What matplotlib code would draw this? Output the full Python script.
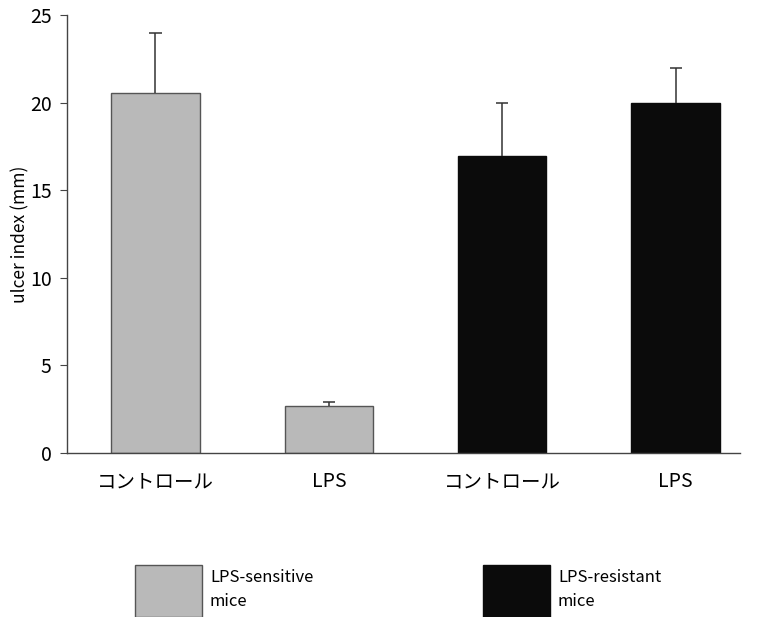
import numpy as np
import matplotlib.pyplot as plt
from matplotlib.patches import Rectangle

plt.rcParams['font.family'] = ['Noto Sans CJK JP', 'DejaVu Sans']

# Data
categories = ['コントロール', 'LPS', 'コントロール', 'LPS']
ulcer_index = [20.55, 2.68, 16.95, 20.0]
upper_err = [3.45, 0.22, 3.05, 2.0]
groups = ['LPS-sensitive\nmice', 'LPS-resistant\nmice']
group_of_bar = [0, 0, 1, 1]

group_colors = ['#b9b9b9', '#0b0b0b']
edge_colors = ['#555555', '#0b0b0b']

fig = plt.figure(figsize=(7.58, 6.17), dpi=100)
ax = fig.add_axes([0.0884, 0.2658, 0.8876, 0.7099])

x = np.arange(len(categories))
colors = [group_colors[g] for g in group_of_bar]
edges = [edge_colors[g] for g in group_of_bar]
ax.bar(x, ulcer_index, width=0.51, color=colors, edgecolor=edges, linewidth=1.0)

# only the upper half of the error bar, with a cap on top only
tops = np.array(ulcer_index) + np.array(upper_err)
ax.vlines(x, ulcer_index, tops, color='#333333', linewidth=1.1)
ax.hlines(tops, x - 0.035, x + 0.035, color='#333333', linewidth=1.1)

ax.set_xlim(-0.51, 3.37)
ax.set_ylim(0, 25)
ax.set_yticks([0, 5, 10, 15, 20, 25])
ax.set_xticks(x)
ax.set_xticklabels(categories, fontsize=14)
ax.tick_params(axis='x', length=0, pad=13)
ax.tick_params(axis='y', direction='out', length=5, pad=6, labelsize=14, color='#444444')
ax.set_ylabel('ulcer index (mm)', fontsize=12.5, labelpad=0)

for s in ['top', 'right']:
    ax.spines[s].set_visible(False)
for s in ['left', 'bottom']:
    ax.spines[s].set_color('#444444')
    ax.spines[s].set_linewidth(1.0)

# legend boxes at the bottom of the figure
box_x = [0.178, 0.637]
for i, g in enumerate(groups):
    fig.add_artist(Rectangle((box_x[i], 0.0), 0.089, 0.084, transform=fig.transFigure,
                             facecolor=group_colors[i], edgecolor=edge_colors[i], linewidth=1.0))
    fig.text(box_x[i] + 0.099, 0.078, g, fontsize=12, va='top', ha='left', linespacing=1.55)

fig.savefig('out.png', dpi=100)
